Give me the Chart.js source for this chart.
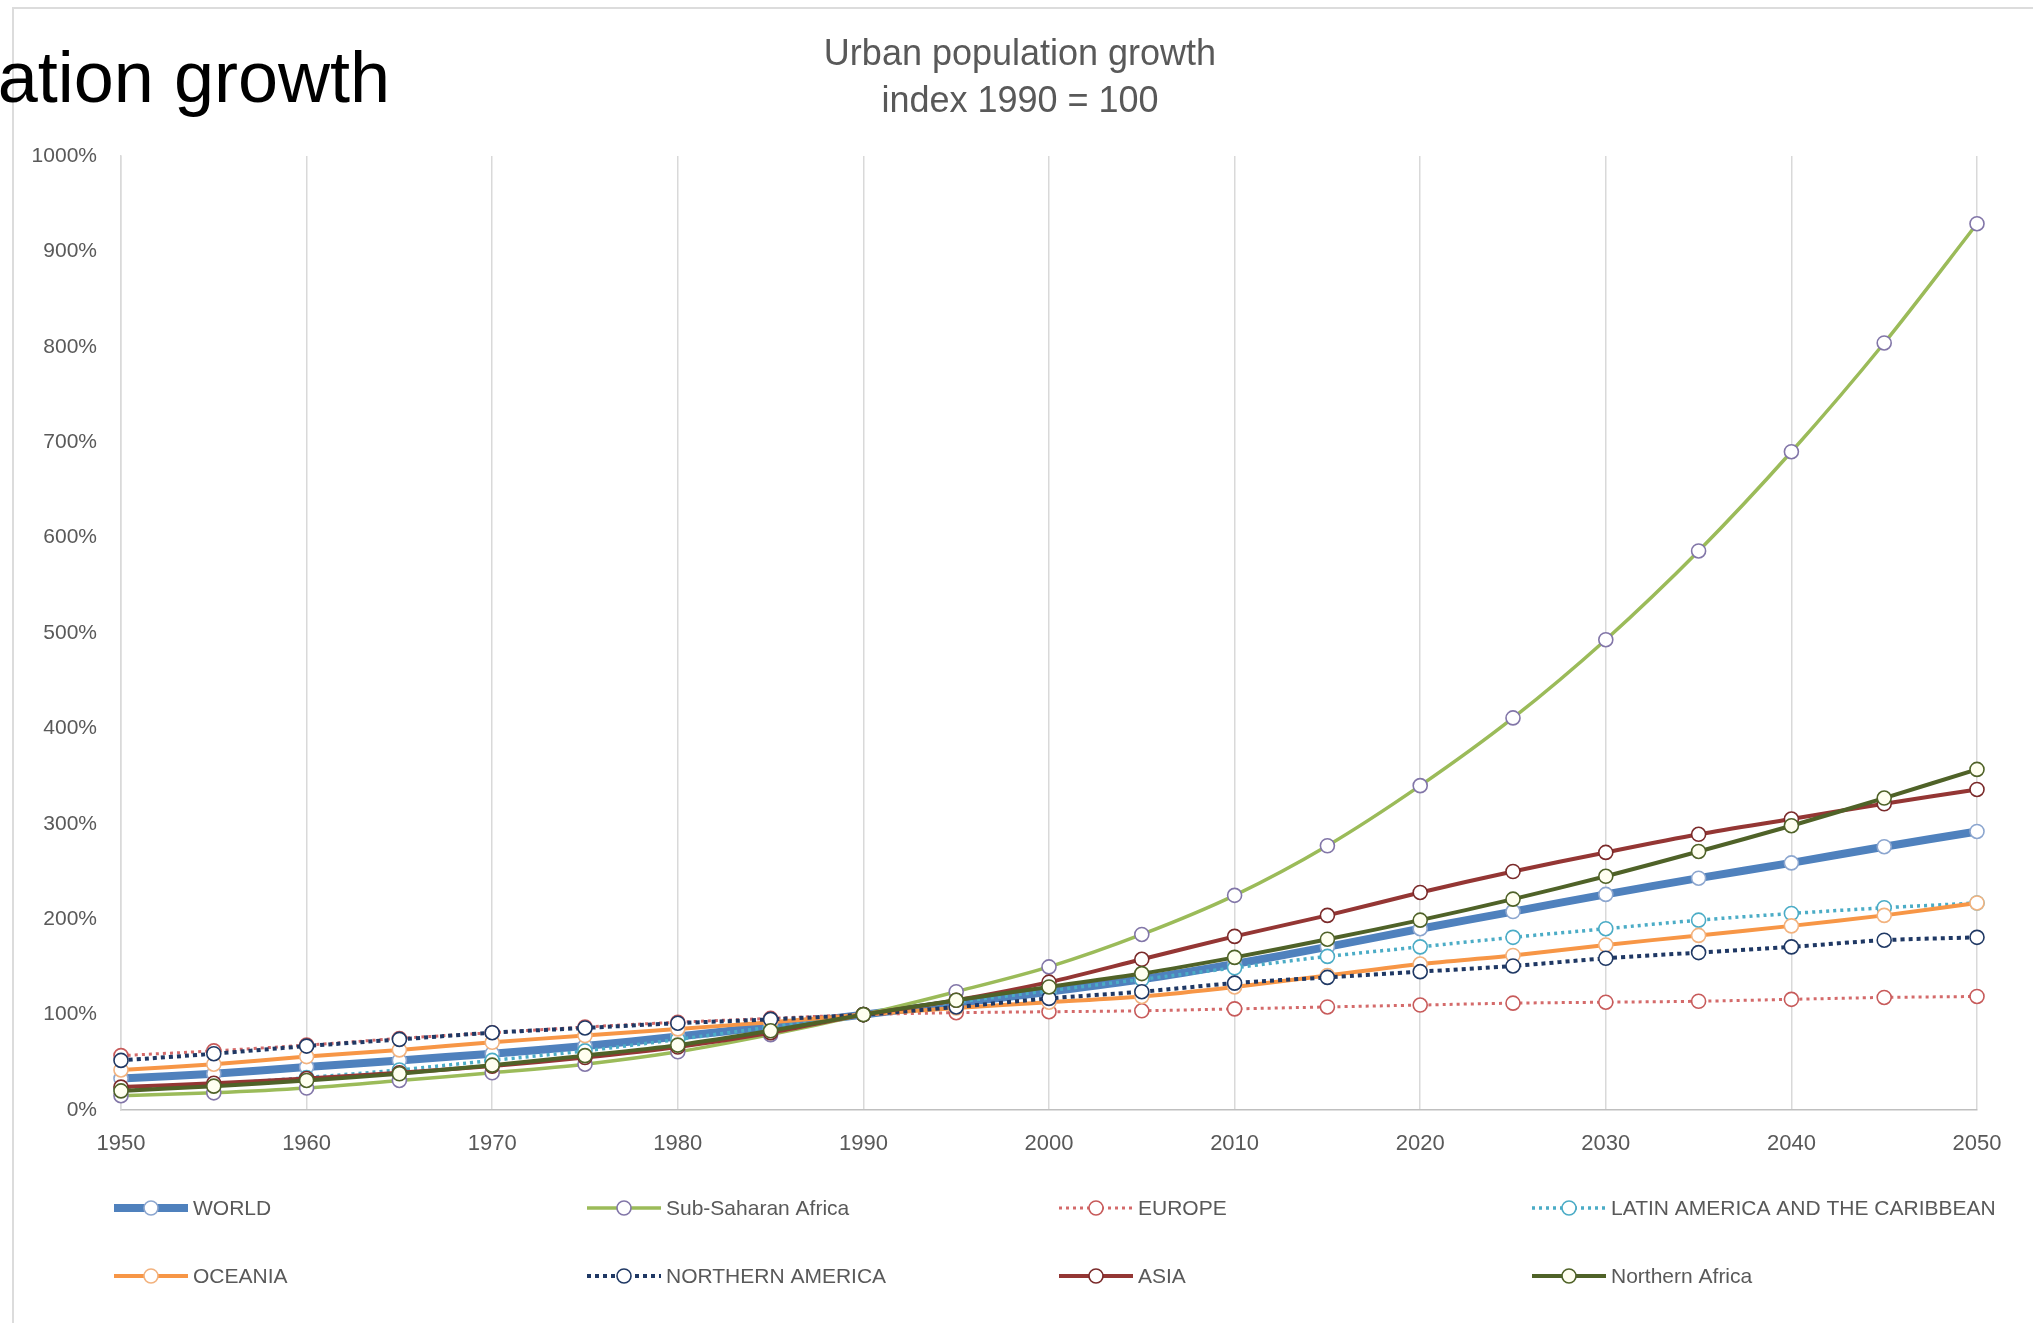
<!DOCTYPE html>
<html>
<head>
<meta charset="utf-8">
<title>Urban population growth</title>
<script src="https://cdn.jsdelivr.net/npm/chart.js@4.4.1/dist/chart.umd.min.js"></script>
<style>
  html, body { margin: 0; padding: 0; background: #fff; overflow: hidden; }
  #wrap { position: relative; width: 2033px; height: 1323px; }
  #frame { position: absolute; left: 12px; top: 7px; right: 0; bottom: 0;
           border-top: 2px solid #dcdcdc; border-left: 2px solid #dcdcdc; }
  #slideTitle { position: absolute; right: calc(100% - 390px); top: 41px; white-space: nowrap;
                font-family: "Liberation Sans", Arial, sans-serif; font-size: 72px; color: #000; line-height: 1; }
  canvas { position: absolute; left: 0; top: 0; }
</style>
</head>
<body>
<div id="wrap">
  <div id="frame"></div>
  <canvas id="chart" width="2033" height="1323"></canvas>
  <div id="slideTitle">Urban population growth</div>
</div>
<script>
// Urban population growth, index 1990 = 100 (values in %)

const YEARS = [1950, 1955, 1960, 1965, 1970, 1975, 1980, 1985, 1990, 1995, 2000,
               2005, 2010, 2015, 2020, 2025, 2030, 2035, 2040, 2045, 2050];

const WORLD       = [33, 38, 45, 52, 59, 67, 77, 88, 100, 112, 124, 137, 153, 171, 190, 208, 226, 243, 259, 276, 292];
const SUB_SAHARAN = [15, 18, 23, 31, 39, 48, 61, 79, 100, 124, 150, 184, 225, 277, 340, 411, 493, 586, 690, 804, 929];
const EUROPE      = [57, 62, 68, 75, 81, 87, 92, 96, 100, 102, 103, 104, 106, 108, 110, 112, 113, 114, 116, 118, 119];
const LATIN_AM    = [22, 27, 34, 42, 52, 62, 74, 87, 100, 113, 125, 137, 149, 161, 171, 181, 190, 199, 206, 212, 217];
const OCEANIA     = [42, 48, 56, 63, 71, 78, 85, 92, 100, 107, 113, 119, 129, 141, 153, 162, 173, 183, 193, 204, 217];
const N_AMERICA   = [52, 59, 67, 74, 81, 86, 91, 95, 100, 108, 117, 124, 133, 139, 145, 151, 159, 165, 171, 178, 181];
const ASIA        = [24, 28, 33, 39, 46, 55, 66, 81, 100, 115, 134, 158, 182, 204, 228, 250, 270, 289, 305, 321, 336];
const N_AFRICA    = [20, 25, 31, 38, 47, 57, 68, 83, 100, 115, 129, 143, 160, 179, 199, 221, 245, 271, 298, 327, 357];

const SERIES_NAMES = ["WORLD", "Sub-Saharan Africa", "EUROPE", "LATIN AMERICA AND THE CARIBBEAN",
                      "OCEANIA", "NORTHERN AMERICA", "ASIA", "Northern Africa"];
const SERIES_VALUES = [WORLD, SUB_SAHARAN, EUROPE, LATIN_AM, OCEANIA, N_AMERICA, ASIA, N_AFRICA];

const TITLE_LINES = ["Urban population growth", "index 1990 = 100"];
const Y_TICKS = [0, 100, 200, 300, 400, 500, 600, 700, 800, 900, 1000];

const FONT = "'Liberation Sans', Arial, sans-serif";
const TEXT_GREY = "#595959";

// line colour, width, dash, marker outline, marker fill
const STYLES = [
  { color: "#4f81bd", width: 8,   dash: [],     point: "#8ca6cf", fill: "#ffffff" },
  { color: "#9bbb59", width: 3.5, dash: [],     point: "#8276a8", fill: "#ffffff" },
  { color: "#d46a6a", width: 3,   dash: [3, 4], point: "#c75a5a", fill: "#ffffff" },
  { color: "#4bacc6", width: 3.5, dash: [3, 4], point: "#4bacc6", fill: "#ffffff" },
  { color: "#f79646", width: 4,   dash: [],     point: "#f2b27e", fill: "#ffffff" },
  { color: "#1f3864", width: 4,   dash: [4, 4], point: "#1f3864", fill: "#ffffff" },
  { color: "#943634", width: 4,   dash: [],     point: "#7a2a2a", fill: "#ffffff" },
  { color: "#4f6228", width: 4,   dash: [],     point: "#4f6228", fill: "#fffff0" }
];

const datasets = SERIES_NAMES.map((name, i) => ({
  label: name,
  data: YEARS.map((yr, j) => ({ x: yr, y: SERIES_VALUES[i][j] })),
  borderColor: STYLES[i].color,
  backgroundColor: STYLES[i].color,
  borderWidth: STYLES[i].width,
  borderDash: STYLES[i].dash,
  borderCapStyle: "butt",
  pointRadius: 7,
  pointBorderWidth: 1.6,
  pointBorderColor: STYLES[i].point,
  pointBackgroundColor: STYLES[i].fill,
  tension: 0.3,
  clip: false,
  order: SERIES_NAMES.length - i
}));

// chart title, centred a little right of the canvas middle as in the original
const chartTitle = {
  id: "chartTitle",
  afterDraw(chart) {
    const ctx = chart.ctx;
    ctx.save();
    ctx.fillStyle = TEXT_GREY;
    ctx.font = "36px " + FONT;
    ctx.textAlign = "center";
    ctx.textBaseline = "middle";
    TITLE_LINES.forEach((line, i) => ctx.fillText(line, 1020, 55 + i * 47));
    ctx.restore();
  }
};

// Excel-style legend: 4 columns x 2 rows under the plot
const gridLegend = {
  id: "gridLegend",
  afterDraw(chart) {
    const ctx = chart.ctx;
    const colX = [114, 587, 1059, 1532];
    const rowY = [1208, 1276];
    ctx.save();
    chart.data.datasets.forEach((ds, i) => {
      const x = colX[i % 4];
      const y = rowY[Math.floor(i / 4)];
      ctx.beginPath();
      ctx.strokeStyle = ds.borderColor;
      ctx.lineWidth = ds.borderWidth;
      ctx.lineCap = "butt";
      ctx.setLineDash(ds.borderDash);
      ctx.moveTo(x, y);
      ctx.lineTo(x + 74, y);
      ctx.stroke();
      ctx.setLineDash([]);
      ctx.beginPath();
      ctx.arc(x + 37, y, 7, 0, Math.PI * 2);
      ctx.fillStyle = ds.pointBackgroundColor;
      ctx.fill();
      ctx.lineWidth = 1.6;
      ctx.strokeStyle = ds.pointBorderColor;
      ctx.stroke();
      ctx.fillStyle = TEXT_GREY;
      ctx.font = "21px " + FONT;
      ctx.textBaseline = "middle";
      ctx.textAlign = "left";
      ctx.fillText(ds.label, x + 79, y + 1);
    });
    ctx.restore();
  }
};

new Chart(document.getElementById("chart"), {
  type: "line",
  data: { datasets },
  plugins: [chartTitle, gridLegend],
  options: {
    responsive: false,
    animation: false,
    devicePixelRatio: 1,
    layout: { padding: { left: 0, right: 56, top: 156, bottom: 153 } },
    plugins: {
      legend: { display: false },
      tooltip: { enabled: false },
      title: { display: false }
    },
    scales: {
      x: {
        type: "linear",
        min: YEARS[0],
        max: YEARS[YEARS.length - 1],
        afterFit: s => { s.height = 60; },
        ticks: {
          stepSize: 10,
          padding: 21,
          color: TEXT_GREY,
          font: { family: FONT, size: 22 },
          callback: v => String(v)
        },
        grid: { color: "#d9d9d9", lineWidth: 1.5, drawTicks: false },
        border: { color: "#bfbfbf", width: 1.5 }
      },
      y: {
        min: Y_TICKS[0],
        max: Y_TICKS[Y_TICKS.length - 1],
        afterFit: s => { s.width = 121; },
        afterBuildTicks: s => { s.ticks = Y_TICKS.map(v => ({ value: v })); },
        ticks: {
          padding: 24,
          color: TEXT_GREY,
          font: { family: FONT, size: 21 },
          callback: v => v + "%"
        },
        grid: { display: false, drawTicks: false },
        border: { color: "#d9d9d9", width: 1.5 }
      }
    }
  }
});
</script>
</body>
</html>
